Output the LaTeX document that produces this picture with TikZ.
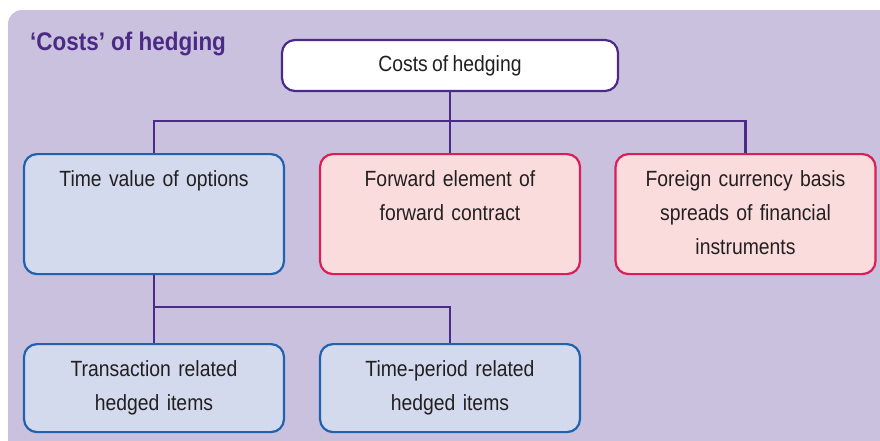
\documentclass[tikz,border=0pt]{standalone}
\usepackage{fontspec}
\setmainfont[FakeStretch=0.88,WordSpace=0.8]{Liberation Sans}
\newfontfamily\titlefont[FakeStretch=0.88]{Liberation Sans}
\definecolor{backdrop}{HTML}{C9C1DD}
\definecolor{titlepurple}{HTML}{4B2A86}
\definecolor{linepurple}{HTML}{4B2A8A}
\definecolor{bluefill}{HTML}{D3DAEE}
\definecolor{blueline}{HTML}{1F62AD}
\definecolor{pinkfill}{HTML}{FADCDC}
\definecolor{pinkline}{HTML}{D91E5B}
\definecolor{textgray}{HTML}{231F20}
\begin{document}
\begin{tikzpicture}[>=latex,line join=bevel,
  every node/.style={text=textgray,font=\fontsize{22bp}{34bp}\selectfont},
  headbox/.style={draw=linepurple,fill=white,line width=2.2bp,rounded corners=13bp,minimum width=336bp,minimum height=51bp},
  itembox/.style={line width=2.2bp,rounded corners=13bp,anchor=north,text width=240bp,align=center,inner xsep=10bp,inner ysep=10bp,text height=22bp},
  bluebox/.style={itembox,draw=blueline,fill=bluefill},
  pinkbox/.style={itembox,draw=pinkline,fill=pinkfill},
  link/.style={draw=linepurple,line width=2.3bp,line join=miter},]
%%
\useasboundingbox (0bp,0bp) rectangle (880bp,-441bp);
\clip (0bp,0bp) rectangle (880bp,-441bp);
\fill [backdrop,rounded corners=14bp] (8bp,-10bp) rectangle (900bp,-460bp);
%%
\node (title) at (30bp,-50bp) [anchor=base west,inner xsep=0bp,text=titlepurple,font=\titlefont\fontsize{25.5bp}{30bp}\selectfont\bfseries] {‘Costs’ of hedging};
  \node (node_0) at (450bp,-65.5bp) [headbox] {Costs of hedging};
  \node (node_1) at (154bp,-153bp) [bluebox,text depth=78bp] {Time value of options};
  \node (node_2) at (450bp,-153bp) [pinkbox,text depth=78bp] {Forward element of\\forward contract};
  \node (node_3) at (745.5bp,-153bp) [pinkbox,text depth=78bp] {Foreign currency basis\\spreads of financial\\instruments};
  \node (node_4) at (154bp,-343bp) [bluebox,text depth=46bp] {Transaction related\\hedged items};
  \node (node_5) at (450bp,-343bp) [bluebox,text depth=46bp] {Time-period related\\hedged items};
  \coordinate (split_0) at (450bp,-121bp);
  \coordinate (split_1) at (154bp,-307bp);
  \draw [link] (node_0) -- (split_0);
  \draw [link] (split_0) -| (node_1);
  \draw [link] (split_0) -- (node_2);
  \draw [link] (split_0) -| (node_3);
  \draw [link] (node_1) -- (node_4);
  \draw [link] (split_1) -| (node_5);
%
\end{tikzpicture}
\end{document}
